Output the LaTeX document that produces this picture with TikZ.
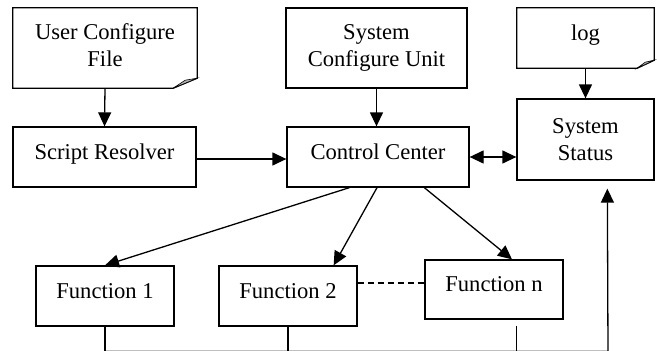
\documentclass[tikz,border=0pt]{standalone}
\usepackage{fontspec}
\setmainfont{Liberation Serif}
\usetikzlibrary{arrows.meta,calc}
\begin{document}
\begin{tikzpicture}[x=1pt,y=-1pt,
  txt/.style={font=\fontsize{22.6}{26.5}\selectfont, inner sep=0pt, align=center},
  boxmulti/.style={txt, draw=black, line width=1.3pt, fill=white},
  boxsingle/.style={boxmulti, text height=14pt, text depth=10pt},
  doc/.style={txt, text depth=6pt},
  docline/.style={draw=black, line width=1.3pt},
  fold/.style={draw=black, line width=0.6pt, fill=black!30},
  conn/.style={line width=1.3pt},
  arr/.style={conn, -{Triangle[length=14pt,width=13pt]}},
  dbl/.style={conn, {Triangle[length=14pt,width=13pt]}-{Triangle[length=14pt,width=13pt]}},
  dashline/.style={line width=1.1pt, dash pattern=on 6pt off 4pt},
  faint/.style={line width=0.8pt, draw=black!25}
]
\fill[white] (0,0) rectangle (657,351);
\useasboundingbox (0,0) rectangle (657,351);

% document-shaped nodes
\node[doc, minimum width=184pt, minimum height=80pt] (ucf) at (105,48) {User Configure\\File};
\draw[docline] (ucf.north west) -- (ucf.north east) -- ($(ucf.south east)+(0,-10)$) -- ($(ucf.south east)+(-24,0)$) -- (ucf.south west) -- cycle;
\draw[fold] ($(ucf.south east)+(-24,0)$) -- ($(ucf.south east)+(-12,-8)$) -- ($(ucf.south east)+(0,-10)$) -- cycle;

\node[txt, text height=14pt, text depth=10pt, minimum width=137pt, minimum height=60pt] (log) at (585.5,38) {log};
\draw[docline] (log.north west) -- (log.north east) -- ($(log.south east)+(0,-8)$) -- ($(log.south east)+(-17,0)$) -- (log.south west) -- cycle;
\draw[fold] ($(log.south east)+(-17,0)$) -- ($(log.south east)+(-9,-6)$) -- ($(log.south east)+(0,-8)$) -- cycle;

% boxes
\node[boxmulti, text depth=5pt, minimum width=181pt, minimum height=80pt] (scu) at (376.5,48) {System\\Configure Unit};
\node[boxsingle, minimum width=183pt, minimum height=60pt] (sr) at (104.5,157) {Script Resolver};
\node[boxsingle, minimum width=182pt, minimum height=60pt] (cc) at (378,157) {Control Center};
\node[boxmulti, minimum width=137pt, minimum height=81pt] (ss) at (585.5,139.5) {System\\Status};
\node[boxsingle, minimum width=138pt, minimum height=60pt] (f1) at (105,296) {Function 1};
\node[boxsingle, minimum width=138pt, minimum height=60pt] (f2) at (288,296) {Function 2};
\node[boxsingle, minimum width=138pt, minimum height=59pt] (fn) at (494,289.5) {Function n};

% connectors
\draw[arr] (ucf.south) -- (sr.north);
\draw[arr] (scu.south) -- (scu.south |- cc.north);
\draw[arr] (log.south) -- (ss.north);
\draw[arr] ([yshift=-2pt]sr.east) -- ([yshift=-2pt]cc.west);
\draw[dbl] (cc.east) -- (cc.east -| ss.west);
\draw[arr] ($(cc.south west)+(63,0)$) -- (f1.north);
\draw[arr] ($(cc.south)+(-1,0)$) -- ($(f2.north east)+(-24,0)$);
\draw[arr] ($(cc.south west)+(138,0)$) -- ($(fn.north)+(18,0)$);

\coordinate (d1) at ($(f2.east)+(0,-13)$);
\draw[dashline] (d1) -- (d1 -| fn.west);

\coordinate (bl) at (105,350);
\coordinate (br) at (608,352);
\coordinate (fnb) at ($(fn.south west)+(92,6)$);
\coordinate (sst) at ($(ss.south west)+(91,8)$);
\draw[faint] (bl) -- (bl -| br);
\draw[conn] (f1.south) -- ++(0,56);
\draw[conn] (f2.south) -- ++(0,56);
\draw[conn] (fnb) -- (fnb |- br);
\draw[arr] (br) -- (sst);
\end{tikzpicture}
\end{document}
